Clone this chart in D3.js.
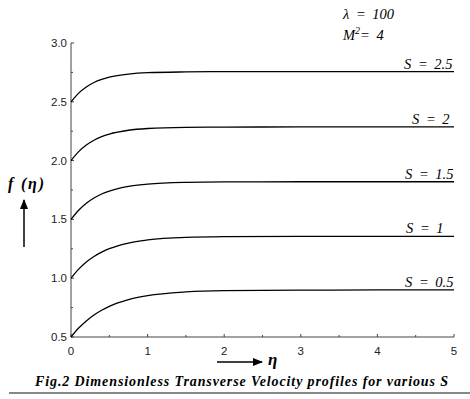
<!DOCTYPE html>
<html>
<head>
<meta charset="utf-8">
<script src="https://cdn.jsdelivr.net/npm/d3@7"></script>
<style>
  body { margin: 0; background: #fff; }
  svg { display: block; }
</style>
</head>
<body>
<div id="chart"></div>
<script>
// eta grid
const etaValues = [0, 0.1, 0.2, 0.3, 0.4, 0.5, 0.75, 1, 1.5, 2, 3, 4, 5];

// f(eta) for each S
const fS25 = [2.5, 2.574, 2.626, 2.664, 2.690, 2.709, 2.736, 2.748, 2.754, 2.756, 2.756, 2.756, 2.756];
const fS20 = [2.0, 2.076, 2.132, 2.173, 2.203, 2.225, 2.258, 2.273, 2.283, 2.285, 2.286, 2.286, 2.286];
const fS15 = [1.5, 1.578, 1.637, 1.682, 1.716, 1.741, 1.781, 1.800, 1.815, 1.819, 1.820, 1.820, 1.820];
const fS10 = [1.0, 1.077, 1.138, 1.185, 1.222, 1.251, 1.299, 1.325, 1.347, 1.353, 1.356, 1.356, 1.356];
const fS05 = [0.5, 0.576, 0.637, 0.687, 0.727, 0.760, 0.817, 0.851, 0.883, 0.894, 0.898, 0.900, 0.900];

const seriesLabels = ["S = 2.5", "S = 2", "S = 1.5", "S = 1", "S = 0.5"];
const seriesValues = [fS25, fS20, fS15, fS10, fS05];

const xTicks = [0, 1, 2, 3, 4, 5];
const yTicks = [0.5, 1.0, 1.5, 2.0, 2.5, 3.0];
const xMinorTicks = [0.5, 1.5, 2.5, 3.5, 4.5];
const yMinorTicks = [0.75, 1.25, 1.75, 2.25, 2.75];

const W = 470, H = 399;
const svg = d3.select("#chart").append("svg")
    .attr("width", W)
    .attr("height", H);

const x = d3.scaleLinear().domain([0, 5]).range([71, 454]);
const y = d3.scaleLinear().domain([0.5, 3.0]).range([337, 43]);

const axisColor = "#444";
const sans = "Liberation Sans";
const serif = "Liberation Serif";

// axes lines
svg.append("line")
    .attr("x1", x(0)).attr("x2", x(0))
    .attr("y1", y(3.0)).attr("y2", y(0.5))
    .attr("stroke", axisColor).attr("stroke-width", 1);
svg.append("line")
    .attr("x1", x(0)).attr("x2", x(5))
    .attr("y1", y(0.5)).attr("y2", y(0.5))
    .attr("stroke", axisColor).attr("stroke-width", 1);

// ticks point inward
svg.selectAll(".ytick")
    .data(yTicks.concat(yMinorTicks))
    .join("line")
    .attr("x1", x(0))
    .attr("x2", d => x(0) + (yTicks.includes(d) ? 3 : 2))
    .attr("y1", d => y(d)).attr("y2", d => y(d))
    .attr("stroke", axisColor);

svg.selectAll(".xtick")
    .data(xTicks.concat(xMinorTicks))
    .join("line")
    .attr("x1", d => x(d)).attr("x2", d => x(d))
    .attr("y1", y(0.5))
    .attr("y2", d => y(0.5) - (xTicks.includes(d) ? 3 : 2))
    .attr("stroke", axisColor);

svg.selectAll(".ylab")
    .data(yTicks)
    .join("text")
    .attr("x", x(0) - 4)
    .attr("y", d => y(d))
    .attr("dy", "0.35em")
    .attr("text-anchor", "end")
    .attr("font-family", sans)
    .attr("font-size", 11.5)
    .attr("fill", "#222")
    .text(d => d.toFixed(1));

svg.selectAll(".xlab")
    .data(xTicks)
    .join("text")
    .attr("x", d => x(d))
    .attr("y", y(0.5) + 18)
    .attr("text-anchor", "middle")
    .attr("font-family", sans)
    .attr("font-size", 11.5)
    .attr("fill", "#222")
    .text(d => d);

// curves
const line = d3.line()
    .x((d, i) => x(etaValues[i]))
    .y(d => y(d))
    .curve(d3.curveMonotoneX);

svg.selectAll(".curve")
    .data(seriesValues)
    .join("path")
    .attr("d", line)
    .attr("fill", "none")
    .attr("stroke", "#000")
    .attr("stroke-width", 1.3);

// series labels sit just above the plateau
const labelX = [404, 412, 405, 406, 405];
svg.selectAll(".slab")
    .data(seriesLabels)
    .join("text")
    .attr("x", (d, i) => labelX[i])
    .attr("y", (d, i) => y(seriesValues[i][seriesValues[i].length - 1]) - 3)
    .attr("font-family", serif)
    .attr("font-style", "italic")
    .attr("font-size", 14.5)
    .attr("word-spacing", 3)
    .text(d => d);

// parameter notes
svg.append("text")
    .attr("x", 343).attr("y", 19)
    .attr("font-family", serif).attr("font-style", "italic").attr("font-size", 14.5)
    .attr("word-spacing", 3)
    .text("\u03bb = 100");
const m2 = svg.append("text")
    .attr("x", 343).attr("y", 40)
    .attr("font-family", serif).attr("font-style", "italic").attr("font-size", 14.5)
    .attr("word-spacing", 3);
m2.append("tspan").text("M");
m2.append("tspan").attr("dy", -6).attr("font-size", 10).text("2");
m2.append("tspan").attr("dy", 6).text("= 4");

// arrow marker
svg.append("defs").append("marker")
    .attr("id", "arrow")
    .attr("viewBox", "0 0 10 10")
    .attr("refX", 9).attr("refY", 5)
    .attr("markerWidth", 7).attr("markerHeight", 7)
    .attr("orient", "auto")
    .append("path")
    .attr("d", "M0,1 L10,5 L0,9 Z")
    .attr("fill", "#000");

// y label f(eta) with arrow
const fl = svg.append("text")
    .attr("x", 8).attr("y", 189)
    .attr("font-family", serif).attr("font-style", "italic").attr("font-weight", "bold")
    .attr("font-size", 16)
    .attr("textLength", 36);
fl.append("tspan").text("f (");
fl.append("tspan").text("\u03b7");
fl.append("tspan").text(")");
svg.append("line")
    .attr("x1", 24).attr("x2", 24)
    .attr("y1", 247).attr("y2", 200)
    .attr("stroke", "#000").attr("stroke-width", 1.5)
    .attr("marker-end", "url(#arrow)");

// x label arrow and eta
svg.append("line")
    .attr("x1", 217).attr("x2", 262)
    .attr("y1", 362).attr("y2", 362)
    .attr("stroke", "#000").attr("stroke-width", 1.5)
    .attr("marker-end", "url(#arrow)");
svg.append("text")
    .attr("x", 268).attr("y", 365)
    .attr("font-family", serif).attr("font-style", "italic").attr("font-weight", "bold")
    .attr("font-size", 17)
    .text("\u03b7");

// caption
svg.append("text")
    .attr("x", 35).attr("y", 386)
    .attr("font-family", serif).attr("font-style", "italic").attr("font-weight", "bold")
    .attr("font-size", 14)
    .attr("textLength", 413)
    .text("Fig.2 Dimensionless Transverse Velocity profiles for various S");
svg.append("line")
    .attr("x1", 9).attr("x2", 470)
    .attr("y1", 393).attr("y2", 393)
    .attr("stroke", "#888").attr("stroke-width", 2);
</script>
</body>
</html>
